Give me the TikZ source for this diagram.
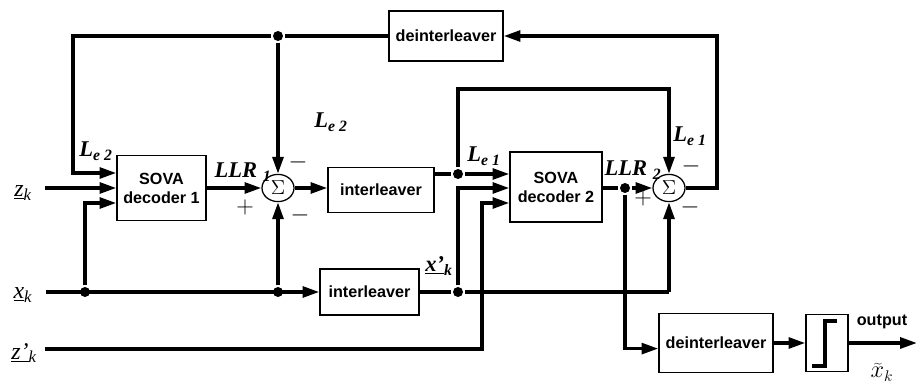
\documentclass[tikz,border=0pt]{standalone}
\usepackage{fontspec}
\setmainfont{Liberation Serif}
\setsansfont{Liberation Sans}
\usetikzlibrary{arrows.meta, shapes.geometric}

\tikzset{
  blk/.style={draw, line width=0.9pt, inner sep=0pt, align=center,
    font=\sffamily\bfseries\fontsize{11.5}{13.5}\selectfont},
  summ/.style={draw, ellipse, line width=0.9pt, inner sep=0pt,
    minimum width=0.8cm, minimum height=0.68cm, font=\fontsize{14}{14}\selectfont},
  jdot/.style={circle, fill, inner sep=0pt, minimum size=0.25cm},
  lbl/.style={font=\rmfamily\bfseries\itshape\fontsize{16}{17}\selectfont, inner sep=0pt},
  inlbl/.style={font=\rmfamily\itshape\fontsize{17}{18}\selectfont, inner sep=0pt},
  sgn/.style={font=\fontsize{16}{16}\selectfont, inner sep=0pt},
}

\begin{document}
\begin{tikzpicture}[x=0.025cm, y=-0.025cm, line width=2.4pt,
    >={Triangle[length=4.2mm, width=2.7mm]}]
    \useasboundingbox (0,0) rectangle (922,385);

    % --- blocs ---
    \node[blk, minimum width=2.225cm, minimum height=1.625cm] (sovaA) at (161.5,188) {SOVA\\decoder 1};
    \node[blk, minimum width=2.65cm, minimum height=1.125cm] (intA) at (381,190) {interleaver};
    \node[blk, minimum width=2.475cm, minimum height=1.15cm] (intB) at (369.5,292) {interleaver};
    \node[blk, minimum width=2.85cm, minimum height=1.25cm] (deintA) at (446,36) {deinterleaver};
    \node[blk, minimum width=2.3cm, minimum height=1.75cm] (sovaB) at (556,187) {SOVA\\decoder 2};
    \node[blk, minimum width=2.85cm, minimum height=1.475cm] (deintB) at (716,343) {deinterleaver};
    \node[blk, minimum width=1.05cm, minimum height=1.425cm] (hard) at (827,343) {};
    \node[summ] (sumA) at (278,188) {$\Sigma$};
    \node[summ] (sumB) at (669,188) {$\Sigma$};

    % seuil (décision dure)
    \draw ([shift={(-15,23)}]hard.center) -- ++(13,0) -- ++(0,-45) -- ++(12,0);

    % --- points de jonction ---
    \node[jdot] (jTop) at (278,36) {};
    \node[jdot] (jX1) at (85,292) {};
    \node[jdot] (jX2) at (278,292) {};
    \node[jdot] (jIA) at (458,174) {};
    \node[jdot] (jXB) at (458,292) {};
    \node[jdot] (jLLR) at (625,188) {};

    \coordinate (cTL) at (73,36);
    \coordinate (cUp) at (669,89);
    \coordinate (cR) at (717,36);
    \coordinate (cZ) at (482,349);
    \coordinate (cXR) at (669,292);
    \coordinate (zkin) at (45,188);
    \coordinate (xkin) at (46,292);
    \coordinate (zpin) at (45,349);
    \coordinate (outp) at (917,343);

    % --- entrées ---
    \node[inlbl] (zk) at (23,193) {\underline{z}\textsubscript{k}};
    \node[inlbl] (xk) at (23,295) {\underline{x}\textsubscript{k}};
    \node[inlbl] (zpk) at (24,353) {\underline{z'}\textsubscript{k}};

    \draw[->] (zkin) -- (sovaA.west);
    \draw[->] (xkin) -- (intB.west);
    \draw[->] (jX1) |- ([yshift=-0.375cm]sovaA.west);
    \draw[->] (jX2) -- (sumA.south);

    % --- décodeur 1 ---
    \draw[->] (deintA.west) -- (jTop) -- (cTL) |- ([yshift=0.375cm]sovaA.west);
    \draw[->] (jTop) -- (sumA.north);
    \draw[->] (sovaA.east) -- (sumA.west);
    \draw[->] (sumA.east) -- (intA.west |- sumA.east);

    % --- décodeur 2 ---
    \draw (intA.east |- jIA) -- (jIA);
    \draw[->] (jIA) -- (sovaB.west |- jIA);
    \draw[->] (jIA) |- (cUp) -- (sumB.north);
    \draw (intB.east) -- (jXB) -- (cXR);
    \draw[->] (cXR) -- (sumB.south);
    \draw[->] (jXB) |- (sovaB.west |- jLLR);
    \draw[->] (zpin) -- (cZ) |- ([yshift=-0.4cm]sovaB.west);
    \draw (sovaB.east |- jLLR) -- (jLLR);
    \draw[->] (jLLR) -- (sumB.west);
    \draw[->] (sumB.east) -| (cR) -- (deintA.east);

    % --- sortie ---
    \draw[->] (jLLR) |- ([yshift=-0.14cm]deintB.west);
    \draw[->] (deintB.east) -- (hard.west);
    \draw[->] (hard.east) -- (outp);
    \node[font=\sffamily\bfseries\fontsize{11.5}{13}\selectfont] (outlbl) at (882,322) {output};
    \node[font=\fontsize{16}{17}\selectfont, inner sep=0pt] (xhat) at (882,372) {$\widetilde{x}_{k}$};

    % --- étiquettes ---
    \node[lbl] (le2a) at (96,151) {L\textsubscript{e 2}};
    \node[lbl] (llr1) at (243,172) {LLR \textsubscript{1}};
    \node[lbl] (le2b) at (331,122) {L\textsubscript{e 2}};
    \node[lbl] (le1a) at (484,156) {L\textsubscript{e 1}};
    \node[lbl] (llr2) at (633,170) {LLR \textsubscript{2}};
    \node[lbl] (le1b) at (690,136) {L\textsubscript{e 1}};
    \node[lbl] (xpk) at (439,266) {\underline{x'}\textsubscript{k}};

    \node[sgn] (mA1) at (298,162) {$-$};
    \node[sgn] (pA) at (245,207) {$+$};
    \node[sgn] (mA2) at (300,215) {$-$};
    \node[sgn] (mB1) at (691,166) {$-$};
    \node[sgn] (pB) at (643,198) {$+$};
    \node[sgn] (mB2) at (690,207) {$-$};
\end{tikzpicture}
\end{document}
